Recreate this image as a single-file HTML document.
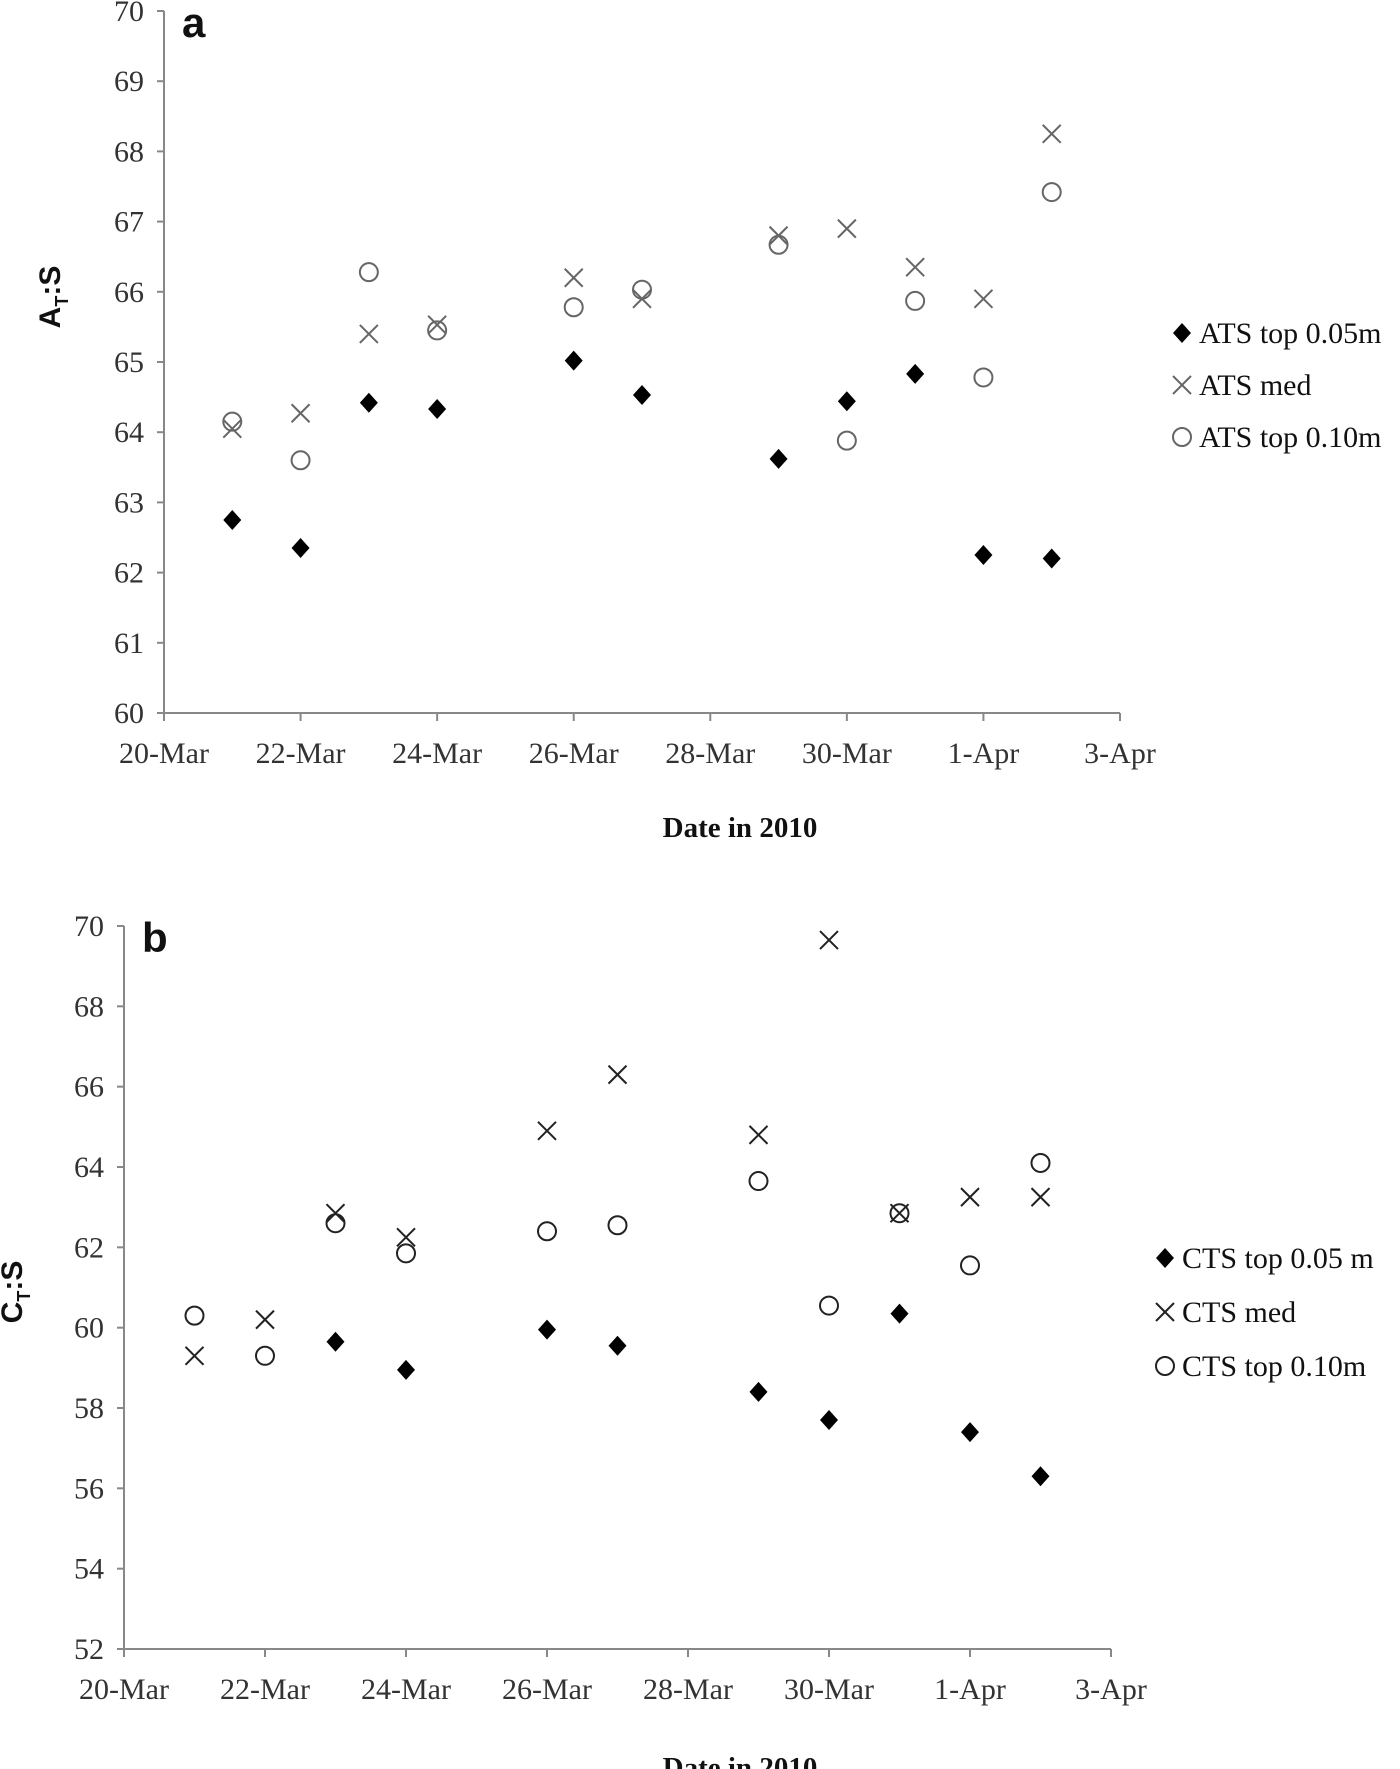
<!DOCTYPE html>
<html><head><meta charset="utf-8"><style>
html,body{margin:0;padding:0;background:#fff;}
svg{display:block;font-family:"Liberation Serif",serif;}
</style></head><body>
<svg id="chart" width="1400" height="1769" viewBox="0 0 1400 1769"></svg>
<script>
const NS="http://www.w3.org/2000/svg";
const xTickLabels=["20-Mar","22-Mar","24-Mar","26-Mar","28-Mar","30-Mar","1-Apr","3-Apr"];
const daysA=[1,2,3,4,6,7,9,10,11,12,13];
const atsTop05=[62.75,62.35,64.42,64.33,65.02,64.53,63.62,64.44,64.83,62.25,62.2];
const atsMed=[64.05,64.27,65.4,65.53,66.2,65.9,66.8,66.9,66.35,65.9,68.25];
const atsTop10=[64.15,63.6,66.28,65.45,65.78,66.03,66.67,63.88,65.87,64.78,67.42];
const yTicksA=[60,61,62,63,64,65,66,67,68,69,70];
const daysBdiamond=[3,4,6,7,9,10,11,12,13];
const ctsTop05=[59.65,58.95,59.95,59.55,58.4,57.7,60.35,57.4,56.3];
const daysB=[1,2,3,4,6,7,9,10,11,12,13];
const ctsMed=[59.3,60.2,62.85,62.25,64.9,66.3,64.8,69.65,62.85,63.25,63.25];
const ctsTop10=[60.3,59.3,62.6,61.85,62.4,62.55,63.65,60.55,62.85,61.55,64.1];
const yTicksB=[52,54,56,58,60,62,64,66,68,70];

const svg=document.getElementById('chart');
function el(tag,attrs,parent,text){const e=document.createElementNS(NS,tag);for(const k in attrs)e.setAttribute(k,attrs[k]);if(text!==undefined)e.textContent=text;(parent||svg).appendChild(e);return e;}

function marker(type,cx,cy,color,g){
  let m;
  if(type==='diamond'){m=el('path',{d:`M${cx} ${cy-10}L${cx+9} ${cy}L${cx} ${cy+10}L${cx-9} ${cy}Z`,fill:'#000'},g);}
  else if(type==='x'){m=el('path',{d:`M${cx-9} ${cy-9}L${cx+9} ${cy+9}M${cx+9} ${cy-9}L${cx-9} ${cy+9}`,stroke:color,'stroke-width':2,fill:'none'},g);}
  else {m=el('circle',{cx:cx,cy:cy,r:9,stroke:color,'stroke-width':2,fill:'none'},g);}
  return m;
}

function panel(cfg){
  const g=el('g',{});
  
  
  const xs=d=>cfg.x0+(cfg.x1-cfg.x0)*d/14;
  const ys=v=>cfg.yb+(cfg.yt-cfg.yb)*(v-cfg.ymin)/(cfg.ymax-cfg.ymin);
  const ax=el('path',{d:`M${cfg.x0} ${cfg.yt}V${cfg.yb}H${cfg.x1}`,stroke:'#888','stroke-width':2,fill:'none'},g);
  
  
  cfg.yTicks.forEach(t=>{
    const y=ys(t);
    el('line',{x1:cfg.x0-7,x2:cfg.x0,y1:y,y2:y,stroke:'#888','stroke-width':2},g);
    const tx=el('text',{x:cfg.x0-20,y:y+10,'text-anchor':'end','font-size':30,fill:'#333'},g,String(t));
    
    
  });
  xTickLabels.forEach((l,i)=>{
    const x=xs(i*2);
    el('line',{x1:x,x2:x,y1:cfg.yb,y2:cfg.yb+8,stroke:'#888','stroke-width':2},g);
    const tx=el('text',{x:x,y:cfg.yb+50,'text-anchor':'middle','font-size':30,fill:'#333'},g,l);
    
    
  });
  cfg.series.forEach(s=>{
    const sg=el('g',{},g);
    
    
    s.vals.forEach((v,i)=>{const m=marker(s.type,xs(s.days[i]),ys(v),cfg.color,sg);
      
      });
  });
  cfg.legend.forEach((l,i)=>{
    const lg=el('g',{},g);
    
    
    const y=cfg.ly+i*cfg.lstep;
    marker(cfg.series[i].type,cfg.lx,y,cfg.color,lg);
    el('text',{x:cfg.lx+17,y:y+10,'font-size':30,fill:'#111'},lg,l);
  });
  const xt=el('text',{x:cfg.xtx,y:cfg.xty,'text-anchor':'middle','font-size':29,'font-weight':'bold',fill:'#111'},g,'Date in 2010');
  
  
  const yt=el('text',{transform:`translate(${cfg.ytx},${cfg.yty}) rotate(-90)`,'text-anchor':'middle','font-size':30,'font-weight':'bold','font-family':'Liberation Sans, sans-serif',fill:'#111'},g);
  
  
  el('tspan',{},yt,cfg.ylab);
  el('tspan',{'font-size':18,dy:8},yt,'T');
  el('tspan',{dy:-8},yt,':S');
  const p=el('text',{x:cfg.x0+18,y:cfg.yt+26,'font-size':42,'font-weight':'bold','font-family':'Liberation Sans, sans-serif',fill:'#111'},g,cfg.letter);
  
  
}

panel({name:'chart-a',x0:164,x1:1120,yt:11,yb:713,ymin:60,ymax:70,yTicks:yTicksA,color:'#666',
  series:[{name:'series-ats-top-0-05m',type:'diamond',days:daysA,vals:atsTop05},{name:'series-ats-med',type:'x',days:daysA,vals:atsMed},{name:'series-ats-top-0-10m',type:'circle',days:daysA,vals:atsTop10}],
  legend:['ATS top 0.05m','ATS med','ATS top 0.10m'],lx:1182,ly:333,lstep:52,xtx:740,xty:837,ytx:60,yty:297,ylab:'A',letter:'a'});
panel({name:'chart-b',x0:124,x1:1111,yt:926,yb:1649,ymin:52,ymax:70,yTicks:yTicksB,color:'#222',
  series:[{name:'series-cts-top-0-05m',type:'diamond',days:daysBdiamond,vals:ctsTop05},{name:'series-cts-med',type:'x',days:daysB,vals:ctsMed},{name:'series-cts-top-0-10m',type:'circle',days:daysB,vals:ctsTop10}],
  legend:['CTS top 0.05 m','CTS med','CTS top 0.10m'],lx:1165,ly:1258,lstep:54,xtx:740,xty:1777,ytx:22,yty:1292,ylab:'C',letter:'b'});
</script>
</body></html>
